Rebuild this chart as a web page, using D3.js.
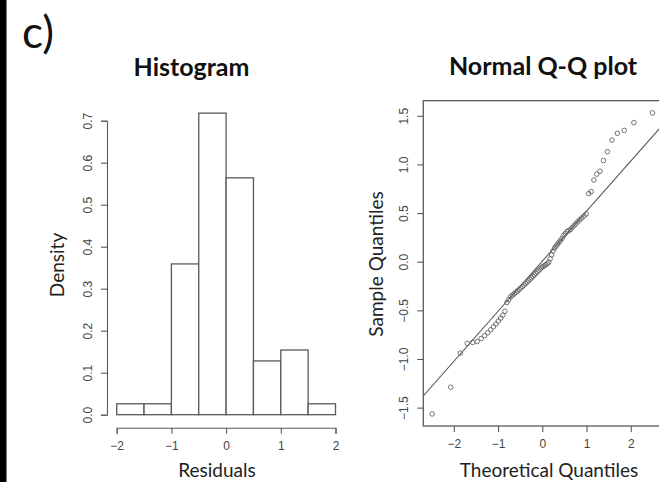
<!DOCTYPE html>
<html>
<head>
<meta charset="utf-8">
<script src="https://cdn.jsdelivr.net/npm/d3@7"></script>
<style>
  body { margin: 0; background: #fff; }
  svg { display: block; }
</style>
</head>
<body>
<script>
// histogram of residuals (density scale, bins of width 0.5)
const binEdges = [-2, -1.5, -1, -0.5, 0, 0.5, 1, 1.5, 2]
const density = [0.026, 0.026, 0.359, 0.718, 0.564, 0.128, 0.154, 0.026]
const histXTicks = [-2, -1, 0, 1, 2]
const histYTicks = [0, 0.1, 0.2, 0.3, 0.4, 0.5, 0.6, 0.7]

// normal Q-Q plot points
const theoretical = [
  -2.49, -2.07, -1.852, -1.697, -1.574, -1.472, -1.383, -1.304, -1.232, -1.166,
  -1.105, -1.048, -0.993, -0.942, -0.893, -0.846, -0.801, -0.758, -0.716, -0.674,
  -0.635, -0.596, -0.558, -0.521, -0.484, -0.448, -0.413, -0.379, -0.344, -0.310,
  -0.277, -0.243, -0.210, -0.178, -0.145, -0.113, -0.080, -0.048, -0.016,
  0.016, 0.048, 0.080, 0.113, 0.145, 0.178, 0.210, 0.243, 0.277, 0.310,
  0.344, 0.379, 0.413, 0.448, 0.484, 0.521, 0.558, 0.596, 0.635, 0.674,
  0.716, 0.758, 0.801, 0.846, 0.893, 0.942, 0.993, 1.048, 1.105, 1.166,
  1.232, 1.304, 1.383, 1.472, 1.574, 1.697, 1.852, 2.07, 2.49
]
const sample = [
  -1.565, -1.29, -0.94, -0.84, -0.83, -0.82, -0.79, -0.76, -0.73, -0.70,
  -0.67, -0.64, -0.61, -0.58, -0.55, -0.51, -0.42, -0.39, -0.36, -0.345,
  -0.33, -0.315, -0.30, -0.285, -0.27, -0.255, -0.24, -0.225, -0.21, -0.195,
  -0.18, -0.165, -0.15, -0.135, -0.12, -0.105, -0.09, -0.075, -0.06,
  -0.05, -0.04, -0.03, -0.02, -0.005, 0.03, 0.07, 0.11, 0.14, 0.16,
  0.18, 0.20, 0.22, 0.24, 0.27, 0.29, 0.31, 0.32, 0.33, 0.35,
  0.37, 0.39, 0.41, 0.43, 0.45, 0.47, 0.49, 0.70, 0.72, 0.84,
  0.90, 0.93, 1.04, 1.13, 1.25, 1.32, 1.35, 1.43, 1.53
]
const qqIntercept = 0.005
const qqSlope = 0.515
const qqXTicks = [-2, -1, 0, 1, 2]
const qqYTicks = [-1.5, -1, -0.5, 0, 0.5, 1, 1.5]

const W = 659, H = 482
const lineColor = '#5a5a5a'
const tickText = '#444'
const labelFont = 'Lato, "Open Sans", sans-serif'
const tickFont = '"Liberation Sans", Arial, sans-serif'

const svg = d3.select('body').append('svg')
  .attr('width', W)
  .attr('height', H)

// black strip on the left edge
svg.append('rect').attr('x', 0).attr('y', 0).attr('width', 6.5).attr('height', H).attr('fill', '#000')

svg.append('text')
  .attr('x', 22).attr('y', 48)
  .attr('font-family', labelFont)
  .attr('font-size', 44)
  .attr('fill', '#111')
  .text('c)')

// rotate y tick labels like R (parallel to the axis)
const rotateYLabels = g => {
  g.selectAll('.tick text')
    .attr('transform', 'rotate(-90)')
    .attr('text-anchor', 'middle')
    .attr('x', 0)
    .attr('y', -15)
    .attr('dy', 0)
}

const styleAxis = g => {
  g.attr('font-family', tickFont).attr('font-size', 12)
  g.selectAll('path, line').attr('stroke', lineColor).attr('stroke-width', 1.1)
  g.selectAll('text').attr('fill', tickText)
}

// ---- Histogram ----
const hx = d3.scaleLinear().domain([-2, 2]).range([116.7, 335.5])
const hy = d3.scaleLinear().domain([0, 0.7]).range([414.7, 120.7])

const hist = svg.append('g')

hist.selectAll('rect')
  .data(density)
  .enter()
  .append('rect')
  .attr('x', (d, i) => hx(binEdges[i]))
  .attr('y', d => hy(d))
  .attr('width', (d, i) => hx(binEdges[i + 1]) - hx(binEdges[i]))
  .attr('height', d => hy(0) - hy(d))
  .attr('fill', '#fff')
  .attr('stroke', lineColor)
  .attr('stroke-width', 1.3)

hist.append('g')
  .attr('transform', 'translate(0, 427.7)')
  .call(d3.axisBottom(hx).tickValues(histXTicks).tickSizeOuter(0).tickSize(6).tickPadding(7.5).tickFormat(d3.format('d')))
  .call(styleAxis)

hist.append('g')
  .attr('transform', 'translate(107, 0)')
  .call(d3.axisLeft(hy).tickValues(histYTicks).tickSizeOuter(0).tickSize(6).tickFormat(d3.format('.1f')))
  .call(styleAxis)
  .call(rotateYLabels)

svg.append('text')
  .attr('x', 191.5).attr('y', 76)
  .attr('text-anchor', 'middle')
  .attr('font-family', labelFont)
  .attr('font-weight', 'bold')
  .attr('font-size', 25)
  .attr('fill', '#111')
  .text('Histogram')

svg.append('text')
  .attr('transform', 'translate(64, 265) rotate(-90)')
  .attr('text-anchor', 'middle')
  .attr('font-family', labelFont)
  .attr('font-size', 19)
  .attr('fill', '#222')
  .text('Density')

svg.append('text')
  .attr('x', 217).attr('y', 477)
  .attr('text-anchor', 'middle')
  .attr('font-family', labelFont)
  .attr('font-size', 19)
  .attr('fill', '#222')
  .text('Residuals')

// ---- Normal Q-Q plot ----
const qx = d3.scaleLinear().domain([-2.69, 2.69]).range([423.3, 661.3])
const qy = d3.scaleLinear().domain([-1.689, 1.655]).range([426, 100.7])

const qq = svg.append('g')

qq.append('clipPath').attr('id', 'qqclip')
  .append('rect')
  .attr('x', qx.range()[0]).attr('y', qy.range()[1])
  .attr('width', qx.range()[1] - qx.range()[0])
  .attr('height', qy.range()[0] - qy.range()[1])

qq.append('g')
  .attr('transform', 'translate(0, 426)')
  .call(d3.axisBottom(qx).tickValues(qqXTicks).tickSizeOuter(0).tickSize(6).tickPadding(7.5).tickFormat(d3.format('d')))
  .call(styleAxis)
  .call(g => g.select('.domain').remove())

qq.append('g')
  .attr('transform', 'translate(423.3, 0)')
  .call(d3.axisLeft(qy).tickValues(qqYTicks).tickSizeOuter(0).tickSize(6).tickFormat(d3.format('.1f')))
  .call(styleAxis)
  .call(g => g.select('.domain').remove())
  .call(rotateYLabels)

qq.append('rect')
  .attr('x', qx.range()[0]).attr('y', qy.range()[1])
  .attr('width', qx.range()[1] - qx.range()[0])
  .attr('height', qy.range()[0] - qy.range()[1])
  .attr('fill', 'none')
  .attr('stroke', lineColor)
  .attr('stroke-width', 1.3)

const lineX = qx.domain()
qq.append('line')
  .attr('clip-path', 'url(#qqclip)')
  .attr('x1', qx(lineX[0])).attr('y1', qy(qqIntercept + qqSlope * lineX[0]))
  .attr('x2', qx(lineX[1])).attr('y2', qy(qqIntercept + qqSlope * lineX[1]))
  .attr('stroke', lineColor)
  .attr('stroke-width', 1.1)

qq.selectAll('circle')
  .data(sample)
  .enter()
  .append('circle')
  .attr('cx', (d, i) => qx(theoretical[i]))
  .attr('cy', d => qy(d))
  .attr('r', 2.3)
  .attr('fill', 'none')
  .attr('stroke', '#666')
  .attr('stroke-width', 0.9)

svg.append('text')
  .attr('x', 543).attr('y', 75)
  .attr('text-anchor', 'middle')
  .attr('font-family', labelFont)
  .attr('font-weight', 'bold')
  .attr('font-size', 25)
  .attr('fill', '#111')
  .text('Normal Q-Q plot')

svg.append('text')
  .attr('transform', 'translate(383, 264) rotate(-90)')
  .attr('text-anchor', 'middle')
  .attr('font-family', labelFont)
  .attr('font-size', 19)
  .attr('fill', '#222')
  .text('Sample Quantiles')

svg.append('text')
  .attr('x', 549).attr('y', 477)
  .attr('text-anchor', 'middle')
  .attr('font-family', labelFont)
  .attr('font-size', 19)
  .attr('fill', '#222')
  .text('Theoretical Quantiles')
</script>
</body>
</html>
